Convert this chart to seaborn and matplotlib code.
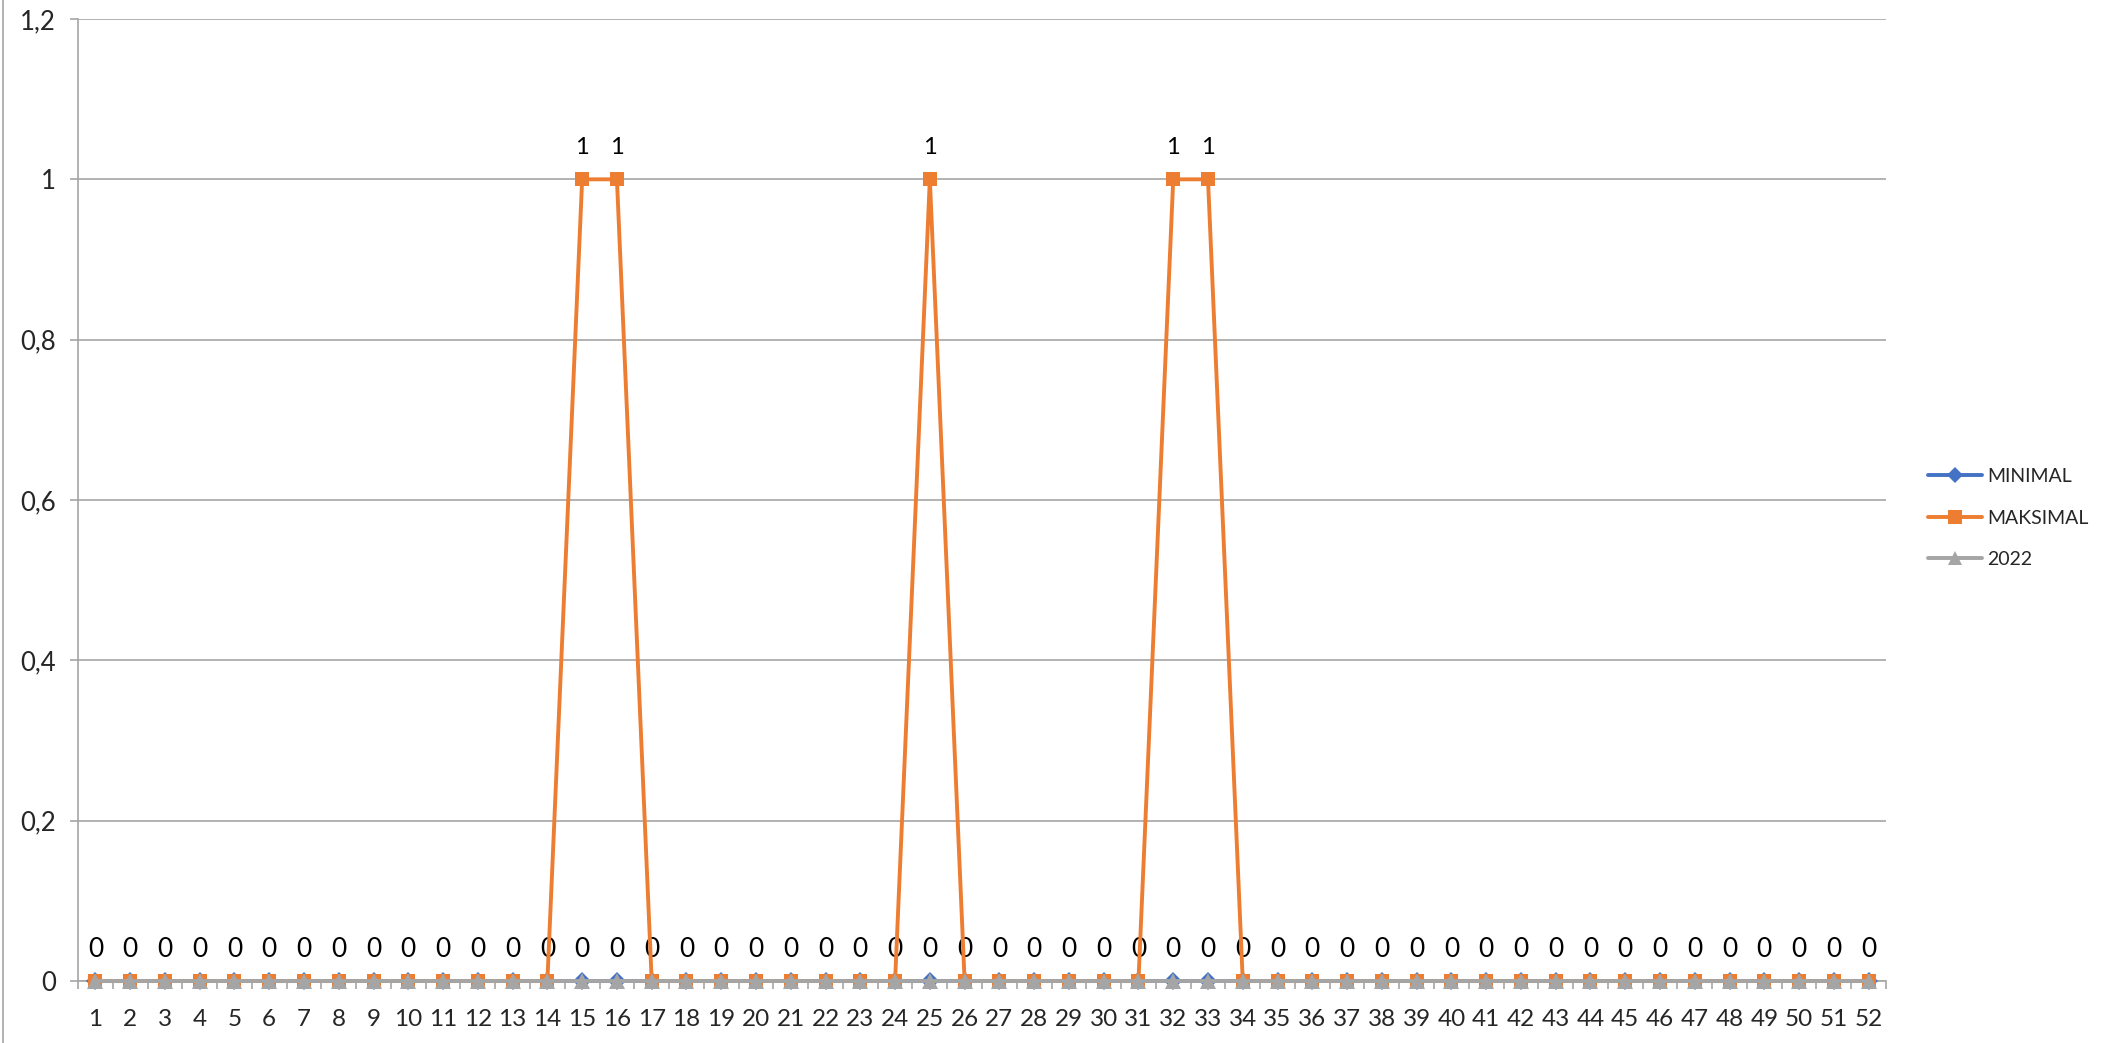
import numpy as np
import pandas as pd
import matplotlib
matplotlib.use('Agg')
import matplotlib.pyplot as plt
from matplotlib.lines import Line2D
import seaborn as sns

# data
weeks = list(range(1, 53))
minimal = [0] * 52
maksimal = [0] * 52
for w in [15, 16, 25, 32, 33]:
    maksimal[w - 1] = 1
tahun_2022 = [0] * 52
y_ticks = [0, 0.2, 0.4, 0.6, 0.8, 1.0, 1.2]
y_labels = ['0', '0,2', '0,4', '0,6', '0,8', '1', '1,2']

sns.set_theme(style='white')
plt.rcParams['font.family'] = ['Lato', 'DejaVu Sans']

fig = plt.figure(figsize=(21.11, 10.43), dpi=100)
ax = fig.add_axes([78 / 2111, 1 - 981 / 1043, (1886 - 78) / 2111, (981 - 19) / 1043])

grid_c = '#A6A6A6'
series = [
    ('MINIMAL', minimal, '#4472C4', 'D', 9),
    ('MAKSIMAL', maksimal, '#ED7D31', 's', 10.5),
    ('2022', tahun_2022, '#A5A5A5', '^', 11),
]
for i, (name, vals, col, mk, ms) in enumerate(series):
    df = pd.DataFrame({'week': weeks, 'val': vals})
    sns.lineplot(data=df, x='week', y='val', ax=ax, color=col, linewidth=2.8,
                 marker=mk, markersize=ms, markeredgewidth=0, label=name,
                 legend=False)
for i, ln in enumerate(ax.lines):
    ln.set_clip_on(False)
    ln.set_zorder(5 + i)

# data labels: zeros of 2022 and the MAKSIMAL peaks
for w, v in zip(weeks, tahun_2022):
    ax.annotate(str(v), (w, v), xytext=(0, 23), textcoords='offset points',
                ha='center', va='center', fontsize=19, color='black')
for w, v in zip(weeks, maksimal):
    if v > 0:
        ax.annotate(str(v), (w, v), xytext=(0, 23), textcoords='offset points',
                    ha='center', va='center', fontsize=17, color='black')

ax.set_xlim(0.5, 52.5)
ax.set_ylim(0, 1.2)
ax.set_xticks(weeks)
ax.set_xticklabels([str(w) for w in weeks], fontsize=17.5)
ax.set_xticks(np.arange(0.5, 53, 1), minor=True)
ax.set_yticks(y_ticks)
ax.set_yticklabels(y_labels, fontsize=18.5)
ax.tick_params(axis='x', which='major', length=0, pad=20)
ax.tick_params(axis='x', which='minor', length=6, width=1.2, color=grid_c, bottom=True)
ax.tick_params(axis='y', length=6, width=1.2, color=grid_c, left=True, pad=10)
ax.set_xlabel('')
ax.set_ylabel('')
ax.grid(axis='y', color=grid_c, linewidth=1.2)
ax.set_axisbelow(True)
for s in ['top', 'right']:
    ax.spines[s].set_visible(False)
for s in ['left', 'bottom']:
    ax.spines[s].set_color(grid_c)
    ax.spines[s].set_linewidth(1.2)

handles = [Line2D([0], [0], color=c, lw=2.8, marker=m, markersize=ms * 0.9, markeredgewidth=0)
           for _, _, c, m, ms in series]
fig.legend(handles, [s[0] for s in series], loc='center left',
           bbox_to_anchor=(1910 / 2111, 1 - 518 / 1043), frameon=False,
           fontsize=14, handlelength=2.8, handletextpad=0.25, labelspacing=1.25)

# chart area border on the left
fig.add_artist(Line2D([3 / 2111, 3 / 2111], [0, 1], color=grid_c, lw=1.2))

fig.savefig('out.png', dpi=100)
